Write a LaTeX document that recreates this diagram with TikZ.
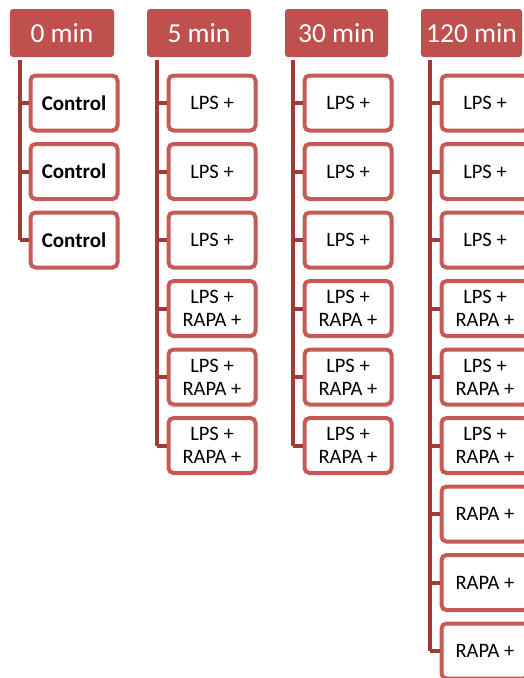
\documentclass[tikz,border=0pt]{standalone}
\usepackage{fontspec}
\setmainfont{Carlito}
\definecolor{hdrred}{HTML}{C0504D}
\definecolor{boxred}{HTML}{C55A57}
\definecolor{trunkred}{HTML}{9E3A38}
\tikzset{
  hdr/.style={fill=hdrred, text=white, rounded corners=3pt, minimum width=104pt,
    minimum height=48pt, inner sep=0pt, font=\fontsize{27.5}{30}\selectfont},
  cbox/.style={draw=boxred, line width=4pt, fill=white, rounded corners=5pt,
    minimum width=87pt, minimum height=55pt, inner sep=0pt, align=center,
    font=\fontsize{20.5}{23}\selectfont},
  ctrl/.style={cbox, font=\fontsize{21}{24}\selectfont\bfseries},
  trunk/.style={draw=trunkred, line width=4.5pt},
  stub/.style={draw=trunkred, line width=4pt}
}
\begin{document}
\begin{tikzpicture}[x=1pt,y=-1pt]
\useasboundingbox (0,0) rectangle (524,678);

% column headers
\node[hdr] (h0) at (62,33) {0 min};
\node[hdr] (h1) at (199,33) {5 min};
\node[hdr, minimum width=103pt] (h2) at (336.5,33) {30 min};
\node[hdr, minimum width=101pt] (h3) at (471.5,33) {120 min};

% trunk tops
\coordinate (t0) at (20,60);
\coordinate (t1) at (157,60);
\coordinate (t2) at (293,60);
\coordinate (t3) at (430,60);

% 0 min
\node[ctrl] (a1) at (74,103) {Control};
\node[ctrl] (a2) at (74,171.5) {Control};
\node[ctrl] (a3) at (74,240) {Control};

% 5 min
\node[cbox] (b1) at (212,103) {LPS +};
\node[cbox] (b2) at (212,171.5) {LPS +};
\node[cbox] (b3) at (212,240) {LPS +};
\node[cbox] (b4) at (212,308.5) {LPS +\\RAPA +};
\node[cbox] (b5) at (212,377) {LPS +\\RAPA +};
\node[cbox] (b6) at (212,445.5) {LPS +\\RAPA +};

% 30 min
\node[cbox] (c1) at (348,103) {LPS +};
\node[cbox] (c2) at (348,171.5) {LPS +};
\node[cbox] (c3) at (348,240) {LPS +};
\node[cbox] (c4) at (348,308.5) {LPS +\\RAPA +};
\node[cbox] (c5) at (348,377) {LPS +\\RAPA +};
\node[cbox] (c6) at (348,445.5) {LPS +\\RAPA +};

% 120 min
\node[cbox] (d1) at (485,103) {LPS +};
\node[cbox] (d2) at (485,171.5) {LPS +};
\node[cbox] (d3) at (485,240) {LPS +};
\node[cbox] (d4) at (485,308.5) {LPS +\\RAPA +};
\node[cbox] (d5) at (485,377) {LPS +\\RAPA +};
\node[cbox] (d6) at (485,445.5) {LPS +\\RAPA +};
\node[cbox] (d7) at (485,514) {RAPA +};
\node[cbox] (d8) at (485,582.5) {RAPA +};
\node[cbox] (d9) at (485,651) {RAPA +};

% trunks and stubs
\draw[trunk] (t0) -- (t0 |- a3.west);
\foreach \n in {a1,a2,a3} \draw[stub] (t0 |- \n.west) -- (\n.west);
\draw[trunk] (t1) -- (t1 |- b6.west);
\foreach \n in {b1,b2,b3,b4,b5,b6} \draw[stub] (t1 |- \n.west) -- (\n.west);
\draw[trunk] (t2) -- (t2 |- c6.west);
\foreach \n in {c1,c2,c3,c4,c5,c6} \draw[stub] (t2 |- \n.west) -- (\n.west);
\draw[trunk] (t3) -- (t3 |- d9.west);
\foreach \n in {d1,d2,d3,d4,d5,d6,d7,d8,d9} \draw[stub] (t3 |- \n.west) -- (\n.west);
\end{tikzpicture}
\end{document}
